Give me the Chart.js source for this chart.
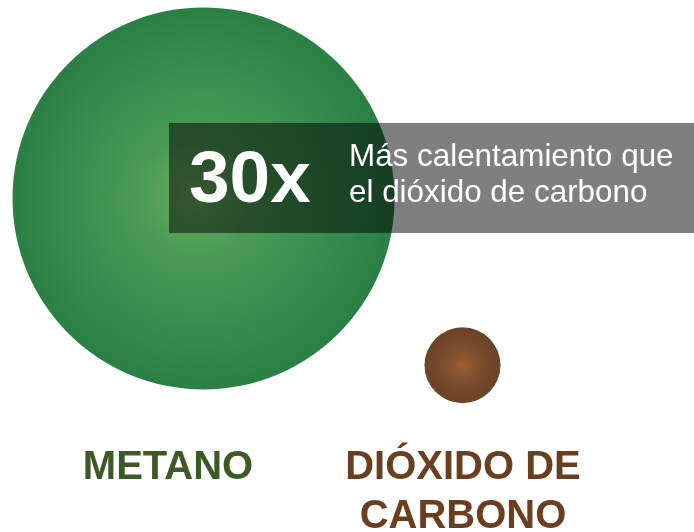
<!DOCTYPE html>
<html lang="es">
<head>
<meta charset="utf-8">
<title>Metano vs dióxido de carbono</title>
<script src="https://cdn.jsdelivr.net/npm/chart.js@4/dist/chart.umd.min.js"></script>
<style>
    html, body { margin: 0; padding: 0; background: #ffffff; }
    #contenitore { width: 694px; height: 532px; position: relative; }
</style>
</head>
<body>
<div id="contenitore"><canvas id="grafico-gas"></canvas></div>
<script>
    // Gases comparados y su poder de calentamiento relativo al CO2
    const gases = ['METANO', 'DIÓXIDO DE CARBONO'];
    const factorCalentamiento = [30, 1];
    const etiquetasGas = [['METANO'], ['DIÓXIDO DE', 'CARBONO']];
    const textoNota = ['Más calentamiento que', 'el dióxido de carbono'];

    const FONT = "'Liberation Sans', Arial, Helvetica, sans-serif";
    const RAGGIO_MAX = 191;
    const RAGGIO_MIN = 38;

    const coloriGas = [
        { stops: ['#6fad5b', '#4b9b56', '#3a8e4f', '#2a7f45'], testo: '#3c5a26', centro: [-8, -4] },
        { stops: ['#a0602f', '#85532f', '#74492b', '#6a4429'], testo: '#6a3f20', centro: [0, 0] }
    ];
    // spostamento orizzontale dell'etichetta rispetto al centro della bolla
    const offsetEtichetta = [-35.5, 0.5];

    function raggio(v) {
        const maxV = Math.max(...factorCalentamiento);
        return Math.max(RAGGIO_MIN, RAGGIO_MAX * Math.sqrt(v / maxV));
    }

    function sfumatura(ctx) {
        const chart = ctx.chart;
        const i = ctx.dataIndex;
        if (!chart.chartArea || i === undefined) return coloriGas[0].stops[3];
        const x = chart.scales.x.getPixelForValue(i);
        const y = chart.scales.y.getPixelForValue(factorCalentamiento[i]);
        const r = raggio(factorCalentamiento[i]);
        const c = coloriGas[i];
        const g = chart.ctx.createRadialGradient(x + c.centro[0], y + c.centro[1], 0, x, y, r);
        g.addColorStop(0, c.stops[0]);
        g.addColorStop(0.3, c.stops[1]);
        g.addColorStop(0.65, c.stops[2]);
        g.addColorStop(1, c.stops[3]);
        return g;
    }

    // Riquadro semitrasparente con il "30x" e le etichette sotto le bolle
    const pluginNote = {
        id: 'note',
        afterDatasetsDraw(chart) {
            const ctx = chart.ctx;
            const xs = chart.scales.x;
            const ys = chart.scales.y;
            const px = xs.getPixelForValue(0);
            const py = ys.getPixelForValue(factorCalentamiento[0]);

            ctx.save();
            const boxX = px - 34.5;
            const boxY = py - 75.5;
            ctx.fillStyle = 'rgba(0,0,0,0.5)';
            ctx.fillRect(boxX, boxY, chart.width - boxX, 110);

            ctx.fillStyle = '#ffffff';
            ctx.textBaseline = 'alphabetic';
            ctx.textAlign = 'left';
            ctx.font = `bold 73px ${FONT}`;
            ctx.fillText(factorCalentamiento[0] + 'x', boxX + 20, boxY + 79);

            ctx.font = `31.4px ${FONT}`;
            textoNota.forEach((riga, k) => {
                ctx.fillText(riga, boxX + 180, boxY + 43 + k * 36);
            });

            ctx.textAlign = 'center';
            ctx.font = `bold 40px ${FONT}`;
            gases.forEach((g, i) => {
                const cx = xs.getPixelForValue(i) + offsetEtichetta[i];
                ctx.fillStyle = coloriGas[i].testo;
                etiquetasGas[i].forEach((riga, k) => {
                    ctx.fillText(riga, cx, 479 + k * 49);
                });
            });
            ctx.restore();
        }
    };

    new Chart(document.getElementById('grafico-gas'), {
        type: 'bubble',
        data: {
            labels: gases,
            datasets: [{
                label: 'Calentamiento relativo',
                data: factorCalentamiento.map((v, i) => ({ x: gases[i], y: v, r: raggio(v) })),
                backgroundColor: sfumatura,
                borderWidth: 0,
                hoverBorderWidth: 0,
                radius: ctx => raggio(factorCalentamiento[ctx.dataIndex]),
                clip: false
            }]
        },
        options: {
            responsive: true,
            maintainAspectRatio: false,
            animation: false,
            layout: {
                autoPadding: false,
                padding: { left: 74, right: 102, top: 0, bottom: 161 }
            },
            plugins: {
                legend: { display: false },
                tooltip: { enabled: false }
            },
            scales: {
                x: { type: 'category', offset: true, display: false },
                y: { type: 'linear', min: 0, max: 64.5, display: false }
            }
        },
        plugins: [pluginNote]
    });
</script>
</body>
</html>
